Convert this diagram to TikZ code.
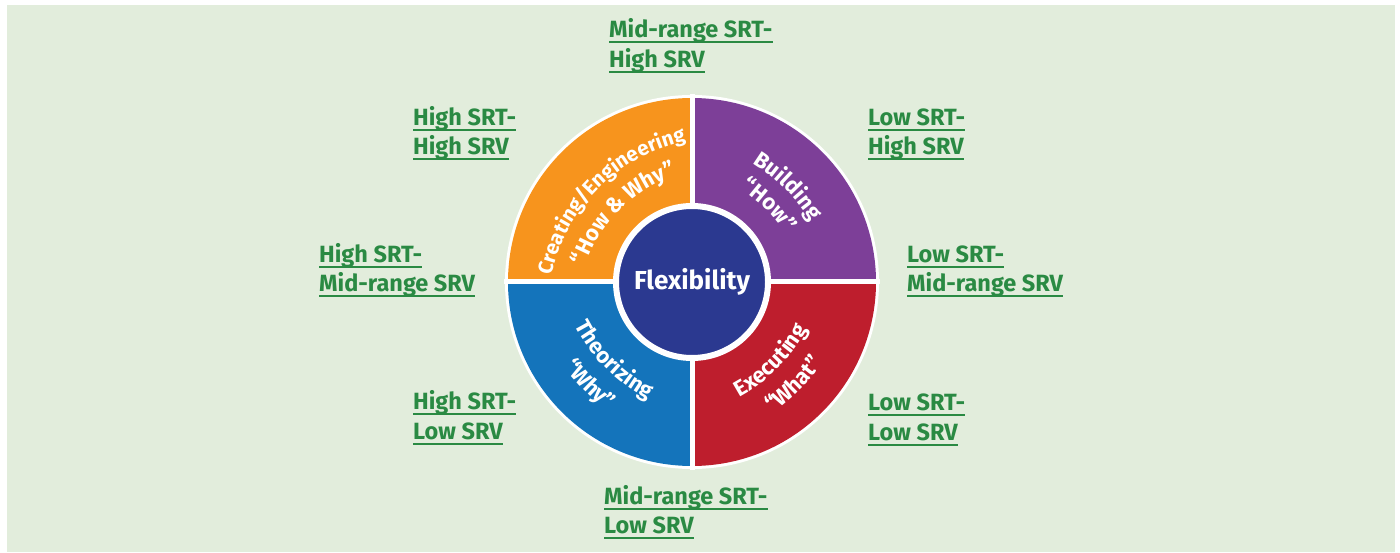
\documentclass[tikz,border=0pt]{standalone}
\usepackage{fontspec}
\setmainfont{Fira Sans}
\usetikzlibrary{calc,decorations.text}
\definecolor{bg}{HTML}{E2EDDC}
\definecolor{qorange}{HTML}{F7941D}
\definecolor{qpurple}{HTML}{7D3F98}
\definecolor{qblue}{HTML}{1474BB}
\definecolor{qred}{HTML}{BE1E2D}
\definecolor{qnavy}{HTML}{2B3990}
\definecolor{lblgreen}{HTML}{2A8A43}
\newcommand\ulline[1]{\setbox0=\hbox{#1}\rlap{\rule[-5.5pt]{\wd0}{2pt}}\box0}
\begin{document}
\begin{tikzpicture}[x=1pt,y=1pt,
  lbl/.style={anchor=base west, align=left, inner sep=0pt, text=lblgreen,
    font=\fontsize{23.5}{29.5}\selectfont\bfseries},
  arctext/.style={decorate, decoration={text along path, text align=center,
    text={|\fontsize{22}{24}\selectfont\bfseries\color{white}|#1}}},
  arctextsmall/.style={decorate, decoration={text along path, text align=center,
    text={|\fontsize{20.5}{24}\selectfont\bfseries\color{white}|#1}}}
]
\useasboundingbox (0,0) rectangle (1400,552);
\fill[white] (0,0) rectangle (1400,552);
\fill[bg] (7,0) rectangle (1395,547);
\coordinate (C) at (692,270);
\coordinate (O1) at (724,238);
\coordinate (O2) at (660,238);
\coordinate (O3) at (724,302);
\coordinate (O4) at (660,302);
% wheel
\fill[white] (C) circle (187);
\fill[qorange] (C) -- ($(C)+(180:184)$) arc[start angle=180,end angle=90,radius=184] -- cycle;
\fill[qpurple] (C) -- ($(C)+(90:184)$) arc[start angle=90,end angle=0,radius=184] -- cycle;
\fill[qred] (C) -- ($(C)+(0:184)$) arc[start angle=0,end angle=-90,radius=184] -- cycle;
\fill[qblue] (C) -- ($(C)+(-90:184)$) arc[start angle=-90,end angle=-180,radius=184] -- cycle;
\draw[white, line width=5] ($(C)+(-188,0)$) -- ($(C)+(188,0)$);
\draw[white, line width=5] ($(C)+(0,-188)$) -- ($(C)+(0,188)$);
\node[circle, fill=qnavy, draw=white, line width=6, minimum size=152, inner sep=0pt,
  text=white, font=\fontsize{26}{30}\selectfont\bfseries] (flex) at (C) {Flexibility};
% curved texts
\path[arctextsmall={Creating/Engineering}] ($(O1)+(173:177)$) arc[start angle=173,end angle=97,radius=177];
\path[arctext={“How {\&} Why”}] ($(O1)+(173:147)$) arc[start angle=173,end angle=97,radius=147];
\path[arctext={Building}] ($(O2)+(83:177)$) arc[start angle=83,end angle=7,radius=177];
\path[arctext={“How”}] ($(O2)+(83:149)$) arc[start angle=83,end angle=7,radius=149];
\path[arctext={Theorizing}] ($(O3)+(187:167)$) arc[start angle=187,end angle=263,radius=167];
\path[arctext={“Why”}] ($(O3)+(187:198)$) arc[start angle=187,end angle=263,radius=198];
\path[arctext={Executing}] ($(O4)+(277:167)$) arc[start angle=277,end angle=353,radius=167];
\path[arctext={“What”}] ($(O4)+(277:198)$) arc[start angle=277,end angle=353,radius=198];
% labels (anchor at the baseline of the last line)
\node[lbl] (mh) at (609,484.5) {\ulline{Mid-range SRT-}\\\ulline{High SRV}};
\node[lbl] (hh) at (413,397) {\ulline{High SRT-}\\\ulline{High SRV}};
\node[lbl] (lh) at (868,397) {\ulline{Low SRT-}\\\ulline{High SRV}};
\node[lbl] (hm) at (319,260) {\ulline{High SRT-}\\\ulline{Mid-range SRV}};
\node[lbl] (lm) at (907,260) {\ulline{Low SRT-}\\\ulline{Mid-range SRV}};
\node[lbl] (hl) at (413,113) {\ulline{High SRT-}\\\ulline{Low SRV}};
\node[lbl] (ll) at (868,112) {\ulline{Low SRT-}\\\ulline{Low SRV}};
\node[lbl] (ml) at (604,18.5) {\ulline{Mid-range SRT-}\\\ulline{Low SRV}};
\end{tikzpicture}
\end{document}
